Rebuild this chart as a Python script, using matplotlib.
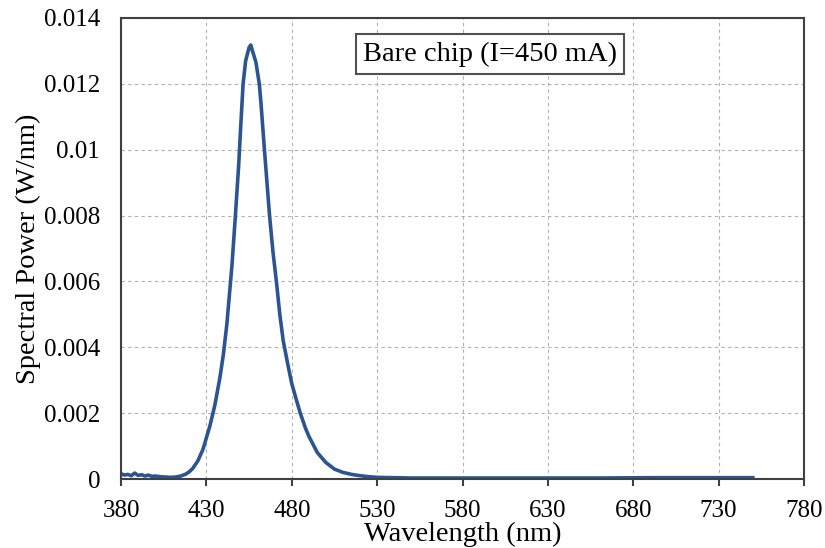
import numpy as np
import matplotlib.pyplot as plt

# Espectro do chip (leitura aproximada da figura)
wl = [380, 382, 384, 386, 388, 390, 392, 394, 396, 398, 400, 403, 406, 409, 412, 415, 418,
      420, 422, 425, 428, 430, 432, 435, 438, 440, 442, 445, 447, 449, 450, 451.5, 453,
      455, 456, 457, 459, 461, 462, 464, 467, 469, 471, 473, 475, 478, 480, 483, 485,
      488, 490, 493, 495, 498, 500, 505, 510, 515, 520, 525, 530, 540, 550, 570, 600,
      630, 660, 690, 720, 750]
potencia = [0.00016, 0.00012, 0.00014, 0.00010, 0.00018, 0.00011, 0.00013, 0.00009, 0.00012, 0.00008,
            0.00009, 0.00007, 0.00006, 0.00005, 0.00006, 0.00009, 0.00015,
            0.00022, 0.00032, 0.00055, 0.00090, 0.00125, 0.00160, 0.00225, 0.00310, 0.00380,
            0.00470, 0.00650, 0.00800, 0.00960, 0.01060, 0.01200, 0.01270,
            0.01310, 0.01318, 0.01300, 0.01266, 0.01200, 0.01140, 0.01000, 0.00800, 0.00690,
            0.00600, 0.00500, 0.00420, 0.00340, 0.00290, 0.00235, 0.00200,
            0.00155, 0.00130, 0.00100, 0.00080, 0.00062, 0.00050, 0.00030, 0.00020, 0.00014,
            0.00010, 0.00007, 0.00005, 0.00004, 0.00003, 0.00003, 0.00003,
            0.00003, 0.00003, 0.00004, 0.00004, 0.00004]

xticks = [380, 430, 480, 530, 580, 630, 680, 730, 780]
yticks = [0, 0.002, 0.004, 0.006, 0.008, 0.01, 0.012, 0.014]
ylabels = ['0', '0.002', '0.004', '0.006', '0.008', '0.01', '0.012', '0.014']

plt.rcParams['font.family'] = ['Liberation Serif', 'DejaVu Serif']

fig = plt.figure(figsize=(8.25, 5.48), dpi=100)
ax = fig.add_axes([121/825, 1 - 479/548, 683/825, 461/548])

ax.plot(wl, potencia, color='#2B5592', lw=2.6, solid_joinstyle='round')

ax.set_xlim(380, 780)
ax.set_ylim(0, 0.014)
ax.set_xticks(xticks)
ax.set_yticks(yticks)
ax.set_yticklabels(ylabels)
ax.tick_params(axis='x', direction='out', length=5, width=1.5, color='#404040', labelsize=18, pad=10)
ax.tick_params(axis='y', length=0, labelsize=18, pad=15)
ax.grid(True, ls=(0, (3, 3)), color='#b0b0b0', lw=0.8)
for s in ax.spines.values():
    s.set_color('#404040')
    s.set_linewidth(1.5)

ax.set_xlabel('Wavelength (nm)', fontsize=20.5, labelpad=0)
ax.set_ylabel('Spectral Power (W/nm)', fontsize=20.5, labelpad=2)

ax.text(0.54, 0.922, 'Bare chip (I=450 mA)', transform=ax.transAxes, fontsize=20.5,
        ha='center', va='center',
        bbox=dict(boxstyle='square,pad=0.25', fc='white', ec='#505050', lw=1.5))

plt.savefig('out.png', dpi=100)
